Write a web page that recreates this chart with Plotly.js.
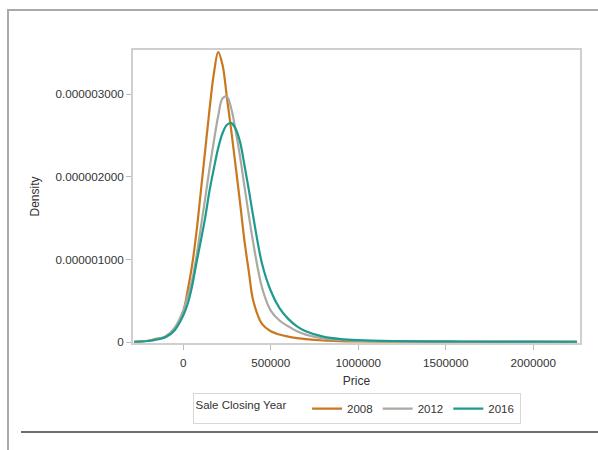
<!DOCTYPE html>
<html>
<head>
<meta charset="utf-8">
<script src="https://cdn.plot.ly/plotly-3.0.1.min.js"></script>
<style>
html,body{margin:0;padding:0;background:#fff;}
#wrap{position:relative;width:598px;height:450px;overflow:hidden;}
#chart{position:absolute;left:0;top:0;width:598px;height:450px;}
#frame{position:absolute;left:7px;top:9px;width:600px;height:460px;border-top:2px solid #a9a9a9;border-left:2px solid #a9a9a9;pointer-events:none;}
#rule{position:absolute;left:21px;top:431px;width:590px;height:0;border-top:2px solid #6e6e6e;pointer-events:none;}
</style>
</head>
<body>
<div id="wrap">
<div id="chart"></div>
<div id="frame"></div>
<div id="rule"></div>
</div>
<script>
// Price grid
var price = [-280000,-200000,-150000,-100000,-50000,0,25000,50000,75000,100000,125000,150000,175000,200000,225000,250000,275000,300000,325000,350000,375000,400000,450000,500000,550000,600000,650000,700000,800000,900000,1000000,1200000,1500000,1800000,2000000,2250000];
// Density values in units of 1e-6
var density2008 = [0.003,0.015,0.04,0.06,0.15,0.37,0.62,0.92,1.32,1.81,2.31,2.81,3.25,3.51,3.35,2.95,2.55,2.12,1.68,1.22,0.85,0.50,0.22,0.13,0.09,0.065,0.048,0.035,0.018,0.010,0.006,0.004,0.002,0.0015,0.001,0.001];
var density2012 = [0.003,0.015,0.035,0.07,0.17,0.38,0.55,0.74,1.03,1.38,1.73,2.10,2.43,2.74,2.95,2.97,2.82,2.55,2.24,1.88,1.53,1.20,0.66,0.38,0.26,0.19,0.13,0.09,0.045,0.025,0.015,0.008,0.004,0.003,0.002,0.002];
var density2016 = [0.003,0.012,0.03,0.06,0.14,0.32,0.46,0.67,0.95,1.22,1.50,1.83,2.10,2.35,2.53,2.63,2.65,2.58,2.42,2.14,1.84,1.52,0.95,0.62,0.41,0.28,0.19,0.13,0.065,0.035,0.022,0.012,0.007,0.005,0.004,0.003];
var seriesNames = ['2008','2012','2016'];
var xTickVals = [0,500000,1000000,1500000,2000000];
var xTickText = ['0','500000','1000000','1500000','2000000'];
var yTickVals = [0,0.000001,0.000002,0.000003];
var yTickText = ['0','0.000001000','0.000002000','0.000003000'];

var colors = ['#c8781f','#aaa9a2','#1f9a8e'];
var all = [density2008,density2012,density2016];
var traces = all.map(function(d,i){
  return {
    x: price,
    y: d.map(function(v){return v*1e-6;}),
    type:'scatter', mode:'lines', name: seriesNames[i],
    line:{color:colors[i], width:2.2, shape:'spline', smoothing:1}
  };
});

var fam = '"Liberation Sans", Arial, sans-serif';
var txt = '#333';
var layout = {
  width:598, height:450,
  margin:{l:133, r:18, t:50, b:107},
  paper_bgcolor:'#fff', plot_bgcolor:'#fff',
  font:{family:fam, size:11.5, color:txt},
  showlegend:true,
  xaxis:{
    range:[-287000,2267000],
    tickvals:xTickVals, ticktext:xTickText,
    ticks:'outside', ticklen:5, tickcolor:'#bbb',
    ticklabelstandoff:3,
    showgrid:false, zeroline:false,
    showline:true, linecolor:'#cfcfcf', linewidth:2, mirror:true,
    tickfont:{family:fam, size:11.7, color:txt},
    title:{text:'Price', font:{family:fam, size:12, color:txt}, standoff:9}
  },
  yaxis:{
    range:[-0.000000012,0.000003535],
    tickvals:yTickVals, ticktext:yTickText,
    ticks:'outside', ticklen:5, tickcolor:'#bbb',
    showgrid:false, zeroline:false,
    showline:true, linecolor:'#cfcfcf', linewidth:2, mirror:true,
    tickfont:{family:fam, size:11.7, color:txt},
    title:{text:'Density', font:{family:fam, size:12, color:txt}, standoff:13}
  },
  legend:{
    orientation:'h', x:0.5, xanchor:'center', y:-0.171, yanchor:'top',
    bgcolor:'#fff', bordercolor:'#d8d8d8', borderwidth:1,
    font:{family:fam, size:11.5, color:txt},
    title:{text:'Sale Closing Year    ', side:'left', font:{family:fam, size:11.5, color:txt}},
    itemwidth:30, tracegroupgap:0
  }
};
Plotly.newPlot('chart', traces, layout, {displayModeBar:false, staticPlot:true});
</script>
</body>
</html>
